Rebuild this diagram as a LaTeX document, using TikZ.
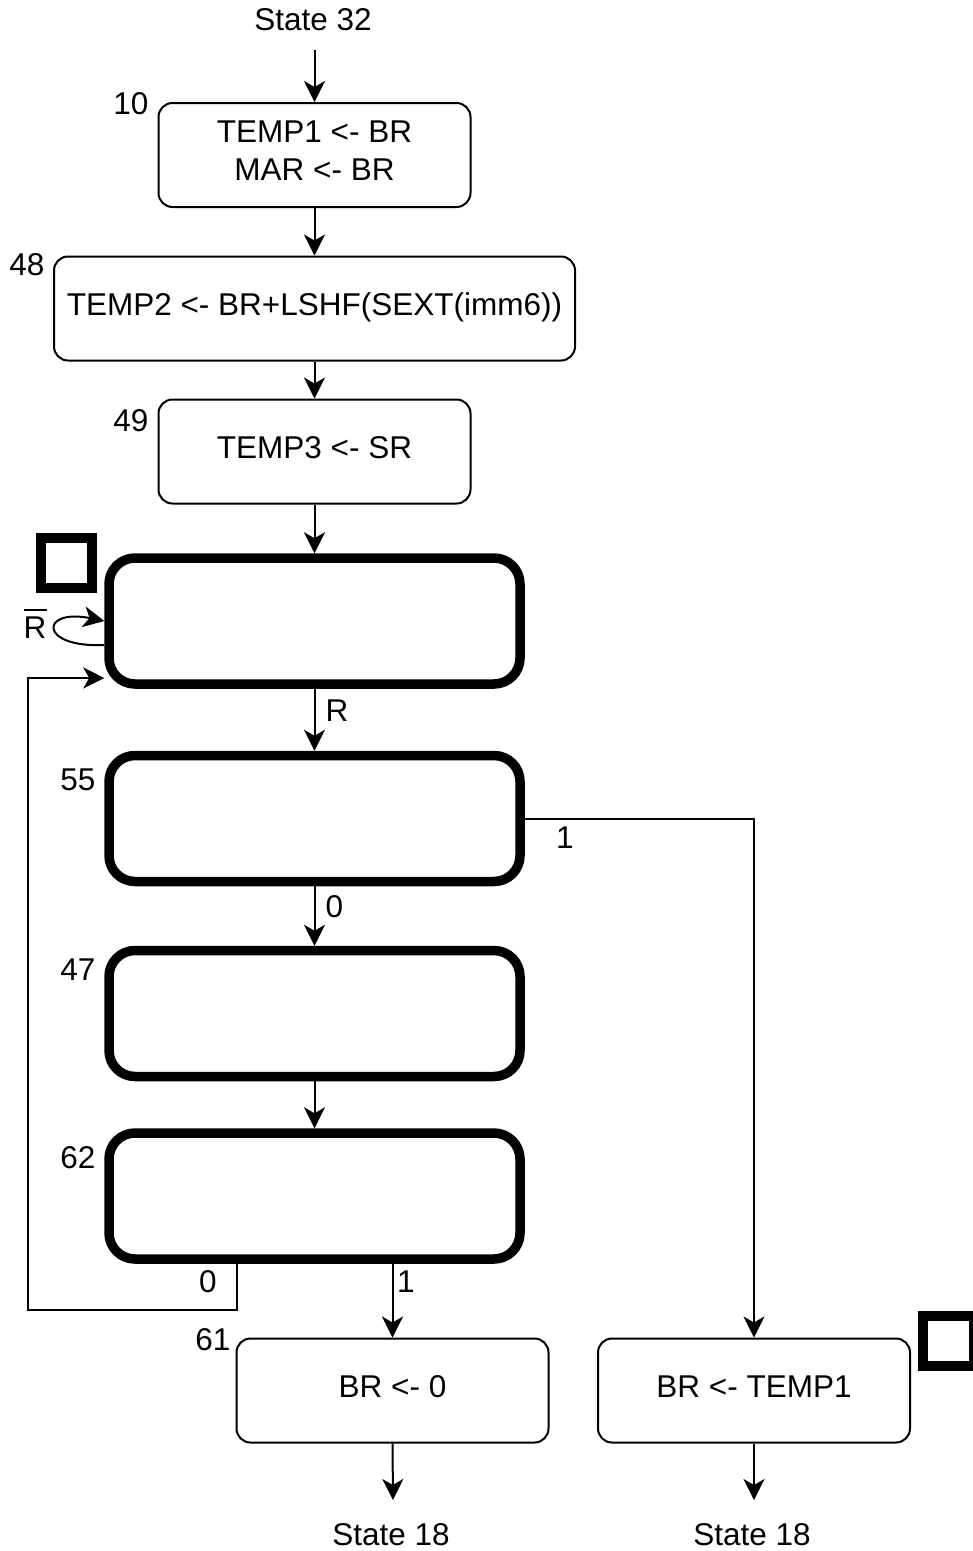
\documentclass[tikz,border=0pt]{standalone}
\usepackage{fontspec}
\setmainfont{Liberation Sans}
\usetikzlibrary{arrows.meta}
\begin{document}
\begin{tikzpicture}[x=1pt,y=-1pt,
  every node/.style={font=\fontsize{31.5}{38}\selectfont, inner sep=0pt},
  thinbox/.style={draw, line width=2pt, rounded corners=14pt, align=center, text depth=8pt, minimum width=312pt, minimum height=104pt},
  thickbox/.style={draw, line width=9.5pt, rounded corners=26pt, minimum width=411pt, minimum height=126pt},
  sq/.style={draw, line width=10pt, minimum width=51pt, minimum height=50pt},
  arr/.style={line width=2pt, -{Stealth[length=21pt,width=21pt,inset=6pt]}}
]
\useasboundingbox (0,0) rectangle (973,1551);

% titles
\node (s32) at (313,20) {State 32};
\coordinate (s32e) at (314.5,50);

% boxes
\node[thinbox] (b10) at (314.5,155) {TEMP1 <- BR\\MAR <- BR};
\node[thinbox, minimum width=521pt] (b48) at (314.5,308.5) {TEMP2 <- BR+LSHF(SEXT(imm6))};
\node[thinbox] (b49) at (314.5,451.5) {TEMP3 <- SR};
\node[thickbox] (bA) at (314.5,621) {};
\node[thickbox] (b55) at (314.5,818.5) {};
\node[thickbox] (b47) at (314.5,1013.5) {};
\node[thickbox] (b62) at (314.5,1196) {};
\node[thinbox] (b61) at (392.5,1390.5) {BR <- 0};
\node[thinbox] (bT) at (754,1390.5) {BR <- TEMP1};

% squares
\node[sq] (sqA) at (66.5,563) {};
\node[sq] (sqB) at (948.5,1341) {};

% state numbers
\node (l10) at (131,104) {10};
\node (l48) at (27,265) {48};
\node (l49) at (131,421) {49};
\node (l55) at (78,780) {55};
\node (l47) at (78,970) {47};
\node (l62) at (78,1158) {62};
\node (l61) at (213,1340) {61};

% bottom states
\node (s18a) at (391,1535) {State 18};
\node (s18b) at (752,1535) {State 18};
\coordinate (e1) at (393,1500);
\coordinate (e2) at (754,1500);

% connectors
\draw[arr] (s32e) -- (b10.north);
\draw[arr] (b10.south) -- (b48.north);
\draw[arr] (b48.south) -- (b49.north);
\draw[arr] (b49.south) -- (bA.north);
\draw[arr] (bA.south) -- node[right=10pt, pos=0.35] (lR) {R} (b55.north);
\draw[arr] (b55.south) -- node[right=10pt, pos=0.35] (l0a) {0} (b47.north);
\draw[arr] (b47.south) -- (b62.north);
\draw[arr] (b62.south -| b61.north) -- (b61.north);
\node (l1b) at (406,1282) {1};
\draw[arr] (b55.east) -| (bT.north);
\node (l1a) at (565,838) {1};
\coordinate (fb1) at (28,1310);
\coordinate (fb2) at (28,678);
\draw[arr] ([xshift=-78pt]b62.south) |- (fb1) -- (fb2) -- (fb2 -| bA.west);
\node (l0b) at (208,1282) {0};
% self loop
\draw[arr] ([yshift=-24pt]bA.west) .. controls (38,648) and (40,608) .. (bA.west);
\node[anchor=base] (lRb) at (35,638) {\rlap{\rule[27pt]{23pt}{2pt}}R};
\draw[arr] (b61.south) -- (e1);
\draw[arr] (bT.south) -- (e2);
\end{tikzpicture}
\end{document}
